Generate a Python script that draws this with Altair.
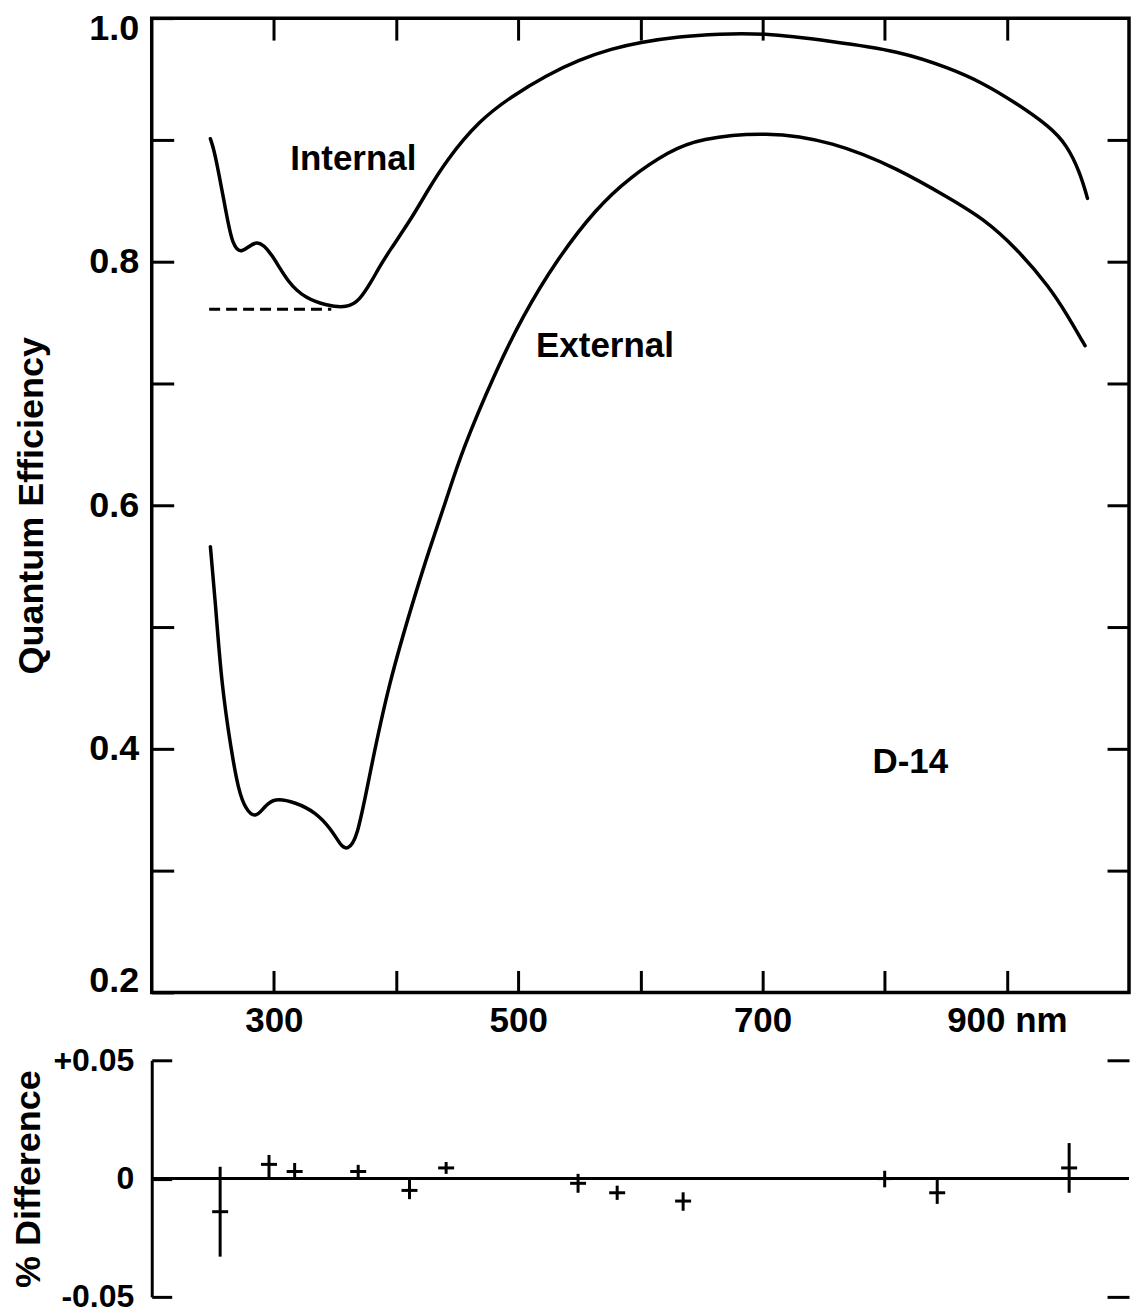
import altair as alt
import pandas as pd

# ---------------- data ----------------
internal_nm = [248, 252, 262, 266, 273, 286, 298, 312, 326, 343,
               360, 370, 380, 386, 394, 413, 425, 441, 468, 495,
               523, 550, 577, 599, 632, 665, 698, 757, 812, 853,
               880, 908, 935, 949, 960, 966]
internal_qe = [0.901, 0.889, 0.834, 0.815, 0.805, 0.820, 0.807, 0.782, 0.770, 0.764,
               0.762, 0.768, 0.784, 0.795, 0.808, 0.836, 0.857, 0.883, 0.916, 0.936,
               0.953, 0.966, 0.975, 0.980, 0.985, 0.987, 0.988, 0.981, 0.973, 0.959,
               0.947, 0.930, 0.911, 0.896, 0.873, 0.852]

external_nm = [248, 252, 257, 265, 271, 277, 285, 292, 300, 318,
               334, 347, 355, 360, 368, 378, 394, 416, 427, 441,
               454, 482, 503, 531, 564, 591, 624, 648, 703, 757,
               812, 853, 880, 908, 935, 949, 964]
external_qe = [0.566, 0.522, 0.454, 0.399, 0.366, 0.350, 0.343, 0.352, 0.360, 0.356,
               0.348, 0.334, 0.320, 0.317, 0.325, 0.377, 0.454, 0.528, 0.563, 0.604,
               0.645, 0.711, 0.754, 0.801, 0.844, 0.869, 0.891, 0.901, 0.907, 0.899,
               0.876, 0.852, 0.836, 0.811, 0.779, 0.757, 0.731]

dash_nm = [247, 347]
dash_qe = [0.761, 0.761]

diff_nm = [256, 296, 317, 369, 411, 441, 549, 581, 635, 800, 843, 951]
diff_val = [-0.014, 0.006, 0.003, 0.003, -0.005, 0.0045, -0.002, -0.006, -0.0095, 0.0, -0.006, 0.0045]
diff_lo = [-0.033, 0.0, -0.0004, -0.0004, -0.0087, 0.002, -0.006, -0.009, -0.0136, -0.0037, -0.0107, -0.006]
diff_hi = [0.005, 0.010, 0.0066, 0.0058, 0.0, 0.007, 0.002, -0.003, -0.0058, 0.0033, 0.0, 0.015]

label_text = ["Internal", "External", "D-14"]
label_nm = [365, 571, 821]
label_qe = [0.884, 0.731, 0.389]

x_ticks = [300, 400, 500, 600, 700, 800, 900]
y_ticks = [0.2, 0.3, 0.4, 0.5, 0.6, 0.7, 0.8, 0.9, 1.0]
y_inner = [0.3, 0.4, 0.5, 0.6, 0.7, 0.8, 0.9]
diff_ticks = [-0.05, 0.0, 0.05]
diff_edge_ticks = [-0.05, 0.05]

# ---------------- styling ----------------
FONT = "Liberation Sans"
W = 979
H = 976
H2 = 237

common = dict(labelFont=FONT, labelFontWeight="bold", labelColor="black",
              titleFont=FONT, titleFontWeight="bold", titleColor="black",
              tickColor="black", tickWidth=3, grid=False, labelOverlap=False)

xscale = alt.Scale(domain=[200, 1000], nice=False, zero=False)
yscale = alt.Scale(domain=[0.2, 1.0], nice=False, zero=False)
dscale = alt.Scale(domain=[-0.05, 0.05], nice=False, zero=False)

FS = "\u2007"
x_label_expr = ("datum.value == 900 ? '" + FS * 3 + "900 nm' : "
                "(datum.value % 200 == 100 ? datum.label : '')")
y_label_expr = "round(datum.value * 10) % 2 == 0 ? format(datum.value, '.1f') : ''"

# ---------------- top panel ----------------
curves_df = pd.DataFrame({
    "nm": internal_nm + external_nm,
    "qe": internal_qe + external_qe,
    "series": ["Internal"] * len(internal_nm) + ["External"] * len(external_nm),
})

lines = alt.Chart(curves_df).mark_line(
    color="black", strokeWidth=3.5, interpolate="basis",
    strokeCap="round", strokeJoin="round"
).encode(
    x=alt.X("nm:Q", scale=xscale,
            axis=alt.Axis(orient="bottom", values=x_ticks, offset=-22, tickSize=22,
                          domain=False, labelExpr=x_label_expr, labelFontSize=35,
                          labelPadding=11, title=None, **common)),
    y=alt.Y("qe:Q", scale=yscale,
            axis=alt.Axis(orient="left", values=y_ticks, offset=-22, tickSize=22,
                          domain=False, labelExpr=y_label_expr, labelFlush=True,
                          labelFlushOffset=7,
                          labelFontSize=36, labelPadding=13,
                          title="Quantum Efficiency", titleFontSize=36,
                          titlePadding=38, **common)),
    detail="series:N",
)

dash_df = pd.DataFrame({"nm": dash_nm, "qe": dash_qe})
dashed = alt.Chart(dash_df).mark_line(
    color="black", strokeWidth=3, strokeDash=[11, 6]
).encode(
    x=alt.X("nm:Q", scale=xscale,
            axis=alt.Axis(orient="top", values=x_ticks, offset=-22, tickSize=22,
                          domain=False, labels=False, title=None, **common)),
    y=alt.Y("qe:Q", scale=yscale,
            axis=alt.Axis(orient="right", values=y_inner, offset=-22, tickSize=22,
                          domain=False, labels=False, title=None, **common)),
)

labels_df = pd.DataFrame({"nm": label_nm, "qe": label_qe, "text": label_text})
texts = alt.Chart(labels_df).mark_text(
    font=FONT, fontWeight="bold", fontSize=35, color="black",
    align="center", baseline="middle"
).encode(
    x=alt.X("nm:Q", scale=xscale, axis=None),
    y=alt.Y("qe:Q", scale=yscale, axis=None),
    text="text:N",
)

top = alt.layer(lines, dashed, texts).resolve_axis(
    x="independent", y="independent"
).properties(
    width=W, height=H,
    view=alt.ViewBackground(stroke="black", strokeWidth=3.5),
)

# ---------------- bottom panel ----------------
diff_df = pd.DataFrame({"nm": diff_nm, "val": diff_val, "lo": diff_lo, "hi": diff_hi})
zero_df = pd.DataFrame({"val": [0.0]})

zero = alt.Chart(zero_df).mark_rule(color="black", strokeWidth=3).encode(
    y=alt.Y("val:Q", scale=dscale,
            axis=alt.Axis(orient="left", values=diff_ticks, offset=-20, tickSize=20,
                          domain=False,
                          labelExpr="datum.value > 0 ? '+0.05' : (datum.value < 0 ? '-0.05' : '0')",
                          labelFontSize=32, labelPadding=18,
                          title="% Difference", titleFontSize=36, titlePadding=5,
                          **common)),
)

bars = alt.Chart(diff_df).mark_rule(color="black", strokeWidth=3).encode(
    x=alt.X("nm:Q", scale=xscale, axis=None),
    y=alt.Y("lo:Q", scale=dscale,
            axis=alt.Axis(orient="left", domain=True, ticks=False, labels=False,
                          title=None, domainColor="black", domainWidth=3, grid=False)),
    y2="hi:Q",
)

arms = alt.Chart(diff_df).mark_rule(
    color="black", strokeWidth=3, xOffset=-8, x2Offset=8
).encode(
    x=alt.X("nm:Q", scale=xscale, axis=None),
    x2="nm:Q",
    y=alt.Y("val:Q", scale=dscale,
            axis=alt.Axis(orient="right", values=diff_edge_ticks, offset=-22, tickSize=22,
                          domain=False, labels=False, title=None, **common)),
)

bottom = alt.layer(zero, bars, arms).resolve_axis(y="independent").properties(
    width=W, height=H2,
    view=alt.ViewBackground(stroke="transparent"),
)

chart = alt.vconcat(top, bottom, spacing=3).properties(
    padding={"left": 10, "top": 7, "right": 0, "bottom": 0},
    background="white",
)

chart.save("out.html", embed_options={"renderer": "svg", "actions": False})
